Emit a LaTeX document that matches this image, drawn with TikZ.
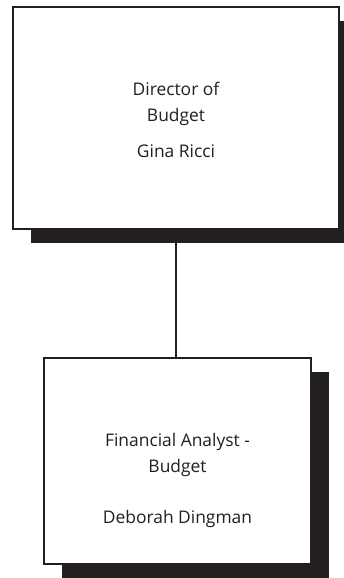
\documentclass[tikz,border=0pt]{standalone}
\usepackage{fontspec}
\setmainfont{Open Sans}
\usetikzlibrary{shadows}
\definecolor{ink}{HTML}{231F20}
\tikzset{post/.style={draw=ink, line width=2pt, fill=white,
    drop shadow={shadow xshift=18pt, shadow yshift=-14pt, fill=ink, opacity=1}},
  who/.style={align=center, text=ink, font=\fontsize{17.4}{26}\selectfont},
  link/.style={draw=ink, line width=2pt}}

\begin{document}
\begin{tikzpicture}[x=1pt,y=1pt]
   \useasboundingbox (0,0) rectangle (343,-578);
   % boxes
   \node[post, minimum width=326pt, minimum height=222pt] (dir) at (176,-118) {};
   \node[post, minimum width=267pt, minimum height=206pt] (fa) at (177.5,-461) {};
   \draw[link] (dir.south) -- (dir.south |- fa.north);
   % names
   \node[who] (dirname) at ([yshift=-1.5pt]dir.center) {Director of\\Budget\\[10pt]Gina Ricci};
   \node[who] (faname) at ([yshift=-19.5pt]fa.center) {Financial Analyst -\\Budget\\[25pt]Deborah Dingman};
\end{tikzpicture}
\end{document}
